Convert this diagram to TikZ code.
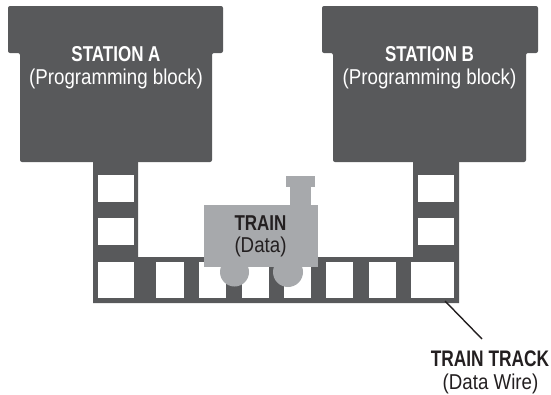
\documentclass[tikz,border=0pt]{standalone}
\usepackage{fontspec}
\newfontfamily\lblreg{Liberation Sans}[FakeStretch=0.87]
\newfontfamily\lblbold{Liberation Sans}[FakeStretch=0.79]
\newfontfamily\lblboldw{Liberation Sans}[FakeStretch=0.77]
\definecolor{blockgray}{HTML}{58595B}
\definecolor{traingray}{HTML}{A7A9AC}
\definecolor{inkdark}{HTML}{231F20}
\begin{document}
\begin{tikzpicture}[x=1pt,y=-1pt,
  station/.style={fill=blockgray,rounded corners=2pt},
  track/.style={fill=blockgray},
  sleeper/.style={fill=white},
  engine/.style={fill=traingray},
  titletext/.style={inner sep=0pt,anchor=base,font=\lblbold\bfseries\fontsize{21.5}{25}\selectfont},
  bigtitle/.style={inner sep=0pt,anchor=base,font=\lblboldw\bfseries\fontsize{22.5}{26}\selectfont},
  subtext/.style={inner sep=0pt,anchor=base,font=\lblreg\fontsize{21.5}{25}\selectfont},
  leader/.style={draw=inkdark,line width=1.4pt}]
\useasboundingbox (0,0) rectangle (551,394);

% programming blocks (stations)
\fill[station] (8,6) -- (223,6) -- (223,53) -- (212,53) -- (212,162) -- (20,162) -- (20,53) -- (8,53) -- cycle;
\fill[station] (322,6) -- (538,6) -- (538,53) -- (526,53) -- (526,162) -- (333,162) -- (333,53) -- (322,53) -- cycle;

\node[titletext,text=white] (stA) at (116,61) {STATION A};
\node[subtext,text=white] (stAsub) at (116,84) {(Programming block)};
\node[titletext,text=white] (stB) at (429.5,61) {STATION B};
\node[subtext,text=white] (stBsub) at (429.5,84) {(Programming block)};

% the track (data wire)
\fill[track] (93,160) -- (138,160) -- (138,257) -- (413,257) -- (413,160) -- (459,160) -- (459,303) -- (93,303) -- cycle;

% openings in the track
\foreach \y in {175,218} {
  \fill[sleeper] (98,\y) rectangle (134,\y+26.5);
  \fill[sleeper] (418,\y) rectangle (454,\y+26.5);
}
\foreach \a/\b in {98/134,156/184,199/226,242/269,284/311,326/353,369/396,411/454} {
  \fill[sleeper] (\a,262) rectangle (\b,298);
}

% the train (data)
\fill[engine] (286,176) rectangle (315,187);
\fill[engine] (290,186) rectangle (311,206);
\fill[engine] (204,205) rectangle (318,267);
\fill[engine] (234.5,272) circle (14.5);
\fill[engine] (288,272) circle (15);

\node[titletext,text=inkdark] (train) at (260.5,230) {TRAIN};
\node[subtext,text=inkdark] (trainsub) at (260.5,252) {(Data)};

% track label with leader line
\coordinate (trackpt) at (445,301);
\node[bigtitle,text=inkdark] (tracklbl) at (490,366.5) {TRAIN TRACK};
\node[subtext,text=inkdark] (tracksub) at (490.5,389.5) {(Data Wire)};
\coordinate (leadend) at (482,339);
\draw[leader] (trackpt) -- (leadend);
\end{tikzpicture}
\end{document}
